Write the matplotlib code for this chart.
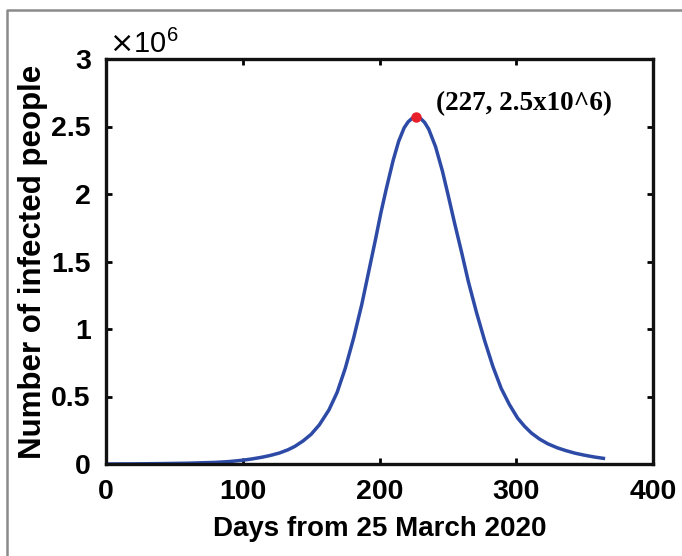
import numpy as np
import matplotlib
matplotlib.use('Agg')
import matplotlib.pyplot as plt
from matplotlib.lines import Line2D

#-----------------
# Data
#-----------------

days = [0, 20, 40, 60, 80, 90, 100, 107, 114, 120, 127, 133, 138, 144, 150, 156, 163,
        169, 175, 181, 187, 192, 197, 201, 205, 210, 214, 218, 221, 224, 227, 230,
        233, 236, 241, 246, 250, 255, 260, 265, 271, 277, 283, 289, 295, 301, 306,
        311, 317, 323, 330, 336, 343, 350, 357, 365]
infected_millions = [0.0, 0.001, 0.003, 0.006, 0.012, 0.018, 0.028, 0.038, 0.05, 0.063,
                     0.082, 0.105, 0.13, 0.17, 0.22, 0.29, 0.40, 0.53, 0.71, 0.93, 1.18,
                     1.42, 1.66, 1.86, 2.04, 2.25, 2.39, 2.49, 2.535, 2.562, 2.57, 2.56,
                     2.53, 2.48, 2.35, 2.17, 2.00, 1.78, 1.57, 1.35, 1.12, 0.91, 0.72,
                     0.56, 0.44, 0.34, 0.28, 0.23, 0.185, 0.15, 0.12, 0.10, 0.08, 0.065,
                     0.052, 0.04]
peak_day = 227
peak_value = 2.57
peak_label = '(227, 2.5x10^6)'
xticks = [0, 100, 200, 300, 400]
yticks = [0, 0.5, 1, 1.5, 2, 2.5, 3]

sans = 'Liberation Sans'

fig = plt.figure(figsize=(6.82, 5.56), dpi=100)
ax = fig.add_axes([106/682, 1-464/556, (653-106)/682, (464-59)/556])

ax.plot(days, infected_millions, color='#2D4BA6', lw=2.5, solid_capstyle='butt')
ax.plot([peak_day], [peak_value], marker='o', ms=6.5, color='#E8202A', ls='none')
ax.text(peak_day + 14, peak_value + 0.1, peak_label, family='Liberation Serif',
        weight='bold', fontsize=19.5, ha='left', va='center')

ax.set_xlim(0, 400)
ax.set_ylim(0, 3)
ax.set_xticks(xticks)
ax.set_yticks(yticks)
ax.set_yticklabels(['%g' % v for v in yticks])
ax.tick_params(direction='in', length=4, width=2, top=True, right=True)
ax.tick_params(axis='x', pad=11)
ax.tick_params(axis='y', pad=11)
for lab in ax.get_xticklabels() + ax.get_yticklabels():
    lab.set_family(sans)
    lab.set_weight('bold')
    lab.set_fontsize(20.5)
for s in ax.spines.values():
    s.set_linewidth(2.4)
    s.set_color('#111111')

ax.set_xlabel('Days from 25 March 2020', family=sans, weight='bold', fontsize=20, labelpad=8)
ax.set_ylabel('Number of infected people', family=sans, weight='bold', fontsize=22.5, labelpad=2)
ax.text(0.005, 1.0, r'$\times\mathregular{10^6}$', transform=ax.transAxes, family=sans,
        fontsize=21, ha='left', va='bottom')

# gray frame around the figure
fig.add_artist(Line2D([7/682, 7/682, 1], [0, 1-10/556, 1-10/556], transform=fig.transFigure,
                      color='#8a8a8a', lw=1.8))

fig.savefig('out.png', dpi=100)
